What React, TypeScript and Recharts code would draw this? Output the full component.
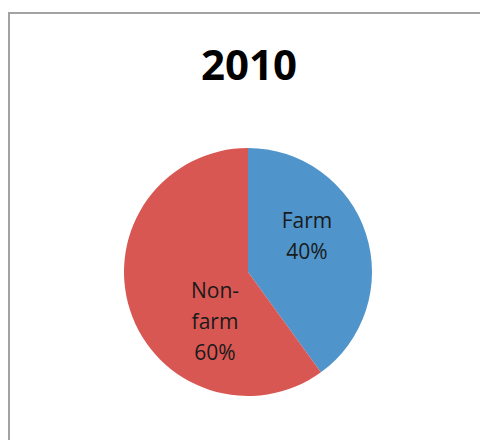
import React from 'react';
import { PieChart, Pie, Cell } from 'recharts';

const title = '2010';
const categories = ['Farm', 'Non-farm'];
const values = [40, 60];
const labelLinesByName: Record<string, string[]> = { Farm: ['Farm'], 'Non-farm': ['Non-', 'farm'] };
const colors = ['#4F95CB', '#D95752'];

const data = categories.map((name, i) => ({ name, value: values[i] }));

// label anchor offsets from pie center (style only)
const labelOffsets = [
  { dx: 59, firstBaseline: -44 },
  { dx: -33, firstBaseline: 26 },
];
const lineGap = 31;

const renderLabel = (props: any) => {
  const { cx, cy, index, name, percent } = props;
  const off = labelOffsets[index];
  const lines = [...(labelLinesByName[name] || [name]), `${Math.round(percent * 100)}%`];
  return (
    <text
      x={cx + off.dx}
      y={cy + off.firstBaseline}
      textAnchor="middle"
      fontFamily="'Open Sans', sans-serif"
      fontSize={21}
      fill="#1a1a1a"
    >
      {lines.map((l, i) => (
        <tspan key={i} x={cx + off.dx} y={cy + off.firstBaseline + i * lineGap}>
          {l}
        </tspan>
      ))}
    </text>
  );
};

export default function App() {
  return (
    <div style={{ position: 'fixed', left: 0, top: 0, width: 480, height: 440, background: '#fff', overflow: 'hidden' }}>
      <div
        style={{
          position: 'absolute',
          left: 8,
          top: 12,
          width: 520,
          height: 480,
          border: '2px solid #a3a3a3',
          boxSizing: 'border-box',
        }}
      />
      <svg width={480} height={440} style={{ position: 'absolute', left: 0, top: 0 }}>
        <text
          x={249}
          y={80}
          textAnchor="middle"
          fontFamily="'Open Sans', sans-serif"
          fontWeight="bold"
          fontSize={42}
          fill="#000"
        >
          {title}
        </text>
      </svg>
      <div style={{ position: 'absolute', left: 0, top: 0 }}>
        <PieChart width={480} height={440} margin={{ top: 0, right: 0, bottom: 0, left: 0 }}>
          <Pie
            data={data}
            dataKey="value"
            nameKey="name"
            cx={248}
            cy={272}
            outerRadius={124}
            startAngle={90}
            endAngle={-270}
            stroke="none"
            label={renderLabel}
            labelLine={false}
            isAnimationActive={false}
          >
            {data.map((d, i) => (
              <Cell key={d.name} fill={colors[i]} />
            ))}
          </Pie>
        </PieChart>
      </div>
    </div>
  );
}
